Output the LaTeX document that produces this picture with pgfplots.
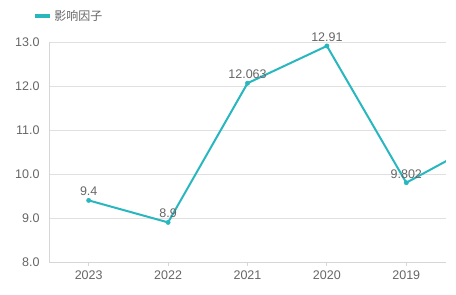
\documentclass[border=0pt]{standalone}
\usepackage{pgfplots}
\pgfplotsset{compat=1.18}
\usepackage{pgfplotstable}
\usepackage{fontspec}
\setmainfont{Liberation Sans}
\newfontfamily\cjk{Noto Sans CJK SC}
\definecolor{teal1}{HTML}{28B7BE}
\definecolor{txtgray}{HTML}{666666}
\definecolor{gridgray}{HTML}{E0E0E0}
\definecolor{axgray}{HTML}{D6D6D6}
\pgfplotstableread{
x y lab
0 9.4 9.4
1 8.9 8.9
2 12.063 12.063
3 12.91 12.91
4 9.802 9.802
5 10.78 10.78
}\datatab
\pgfplotstableread{
x y lab
0 9.4 9.4
1 8.9 8.9
2 12.063 12.063
3 12.91 12.91
4 9.802 9.802
}\vistab
\begin{document}
\begin{tikzpicture}[x=1pt,y=1pt]
\path[use as bounding box] (0,0) rectangle (456,295);
\begin{axis}[
  at={(49pt,33pt)}, anchor=south west,
  scale only axis, width=397pt, height=220pt,
  xmin=-0.5, xmax=4.5, ymin=8, ymax=13,
  xtick={0,1,2,3,4}, xticklabels={2023,2022,2021,2020,2019},
  ytick={8,9,10,11,12,13},
  yticklabel style={/pgf/number format/fixed,/pgf/number format/precision=1,/pgf/number format/fixed zerofill},
  /pgf/number format/assume math mode=true,
  tick label style={font=\fontsize{12.5}{14}\selectfont, text=txtgray},
  ymajorgrids, grid style={gridgray, line width=0.8pt},
  axis x line*=bottom, axis y line*=left,
  axis line style={axgray, line width=0.8pt, -},
  x axis line style={-}, y axis line style={-},
  ytick style={draw=none},
  xtick style={axgray, line width=0.8pt},
  tick align=outside, major tick length=4pt,
  xticklabel style={yshift=-1pt},
  yticklabel style={xshift=-2pt},
  legend style={at={(-0.04,1.118)}, anchor=west, draw=none, fill=none,
    font=\cjk\fontsize{12}{14}\selectfont, text=txtgray, inner sep=0pt,
    /tikz/every even column/.append style={column sep=4pt}},
  legend image code/.code={\draw[line width=4pt, teal1] (0pt,0pt) -- (15pt,0pt);},
  legend cell align=left,
]
\addplot[teal1, line width=2pt, no marks] table[x=x,y=y] {\datatab};
\addlegendentry{影响因子}
\addplot[teal1, only marks, mark=*, mark size=2.2pt,
  nodes near coords, point meta=explicit symbolic,
  nodes near coords style={font=\fontsize{12.5}{14}\selectfont, text=txtgray, anchor=south, yshift=1pt}]
  table[x=x,y=y,meta=lab] {\vistab};
\end{axis}
\end{tikzpicture}
\end{document}
